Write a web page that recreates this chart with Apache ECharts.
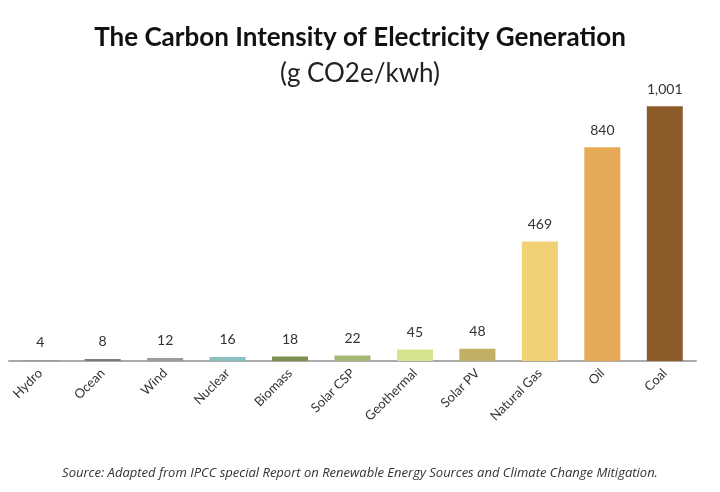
<!DOCTYPE html>
<html>
<head>
<meta charset="UTF-8">
<script src="https://cdn.jsdelivr.net/npm/echarts@6/dist/echarts.min.js"></script>
<style>body{margin:0;background:#fff}#c{width:720px;height:492px}</style>
</head>
<body>
<div id="c"></div>
<script>
var categories = ['Hydro','Ocean','Wind','Nuclear','Biomass','Solar CSP','Geothermal','Solar PV','Natural Gas','Oil','Coal'];
var values = [4, 8, 12, 16, 18, 22, 45, 48, 469, 840, 1001];
var colors = ['#9a9a9a','#7a7a7a','#9c9c9c','#8cc0c0','#7f8f52','#a5b676','#d6e38c','#bfb063','#f1d174','#e6a955','#8c5b2a'];

var chart = echarts.init(document.getElementById('c'));
chart.setOption({
    title: [{
        text: 'The Carbon Intensity of Electricity Generation',
        left: 'center', top: 20,
        textStyle: {fontFamily: 'Lato', fontSize: 26, fontWeight: 'bold', color: '#111'}
    }, {
        text: '(g CO2e/kwh)',
        left: 'center', top: 56,
        textStyle: {fontFamily: 'Lato', fontSize: 26, fontWeight: 'normal', color: '#222'}
    }, {
        text: 'Source: Adapted from IPCC special Report on Renewable Energy Sources and Climate Change Mitigation.',
        left: 'center', top: 462,
        textStyle: {fontFamily: 'Open Sans', fontSize: 13, fontStyle: 'italic', fontWeight: 'normal', color: '#333'}
    }],
    grid: {left: 9, right: 24, top: 81, bottom: 131},
    xAxis: {
        type: 'category', data: categories,
        axisLine: {lineStyle: {color: '#aaa', width: 2}},
        axisTick: {show: false},
        axisLabel: {rotate: 45, color: '#333', fontFamily: 'Lato', fontSize: 13, interval: 0, margin: 10}
    },
    yAxis: {type: 'value', min: 0, max: 1100, show: false, splitLine: {show: false}},
    series: [{
        type: 'bar', barWidth: 36,
        data: values.map(function (v, i) { return {value: v, itemStyle: {color: colors[i]}}; }),
        label: {
            show: true, position: 'top', distance: 10, color: '#333', fontFamily: 'Lato', fontSize: 14,
            formatter: function (p) { return p.value.toLocaleString('en-US'); }
        }
    }]
});
</script>
</body>
</html>
